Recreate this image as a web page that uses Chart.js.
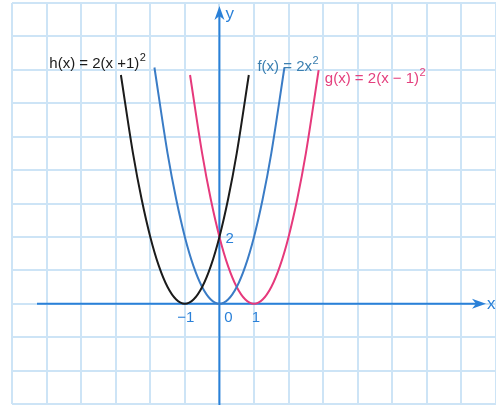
<!DOCTYPE html>
<html>
<head>
<meta charset="utf-8">
<script src="https://cdn.jsdelivr.net/npm/chart.js@4.4.1/dist/chart.umd.min.js"></script>
<style>
    html, body { margin: 0; padding: 0; background: #ffffff; }
    #wrap { width: 496px; height: 409px; }
</style>
</head>
<body>
<div id="wrap"><canvas id="parabolaChart"></canvas></div>
<script>
// sample points of the three parabolas
const hX = [-2.85, -2.5, -2.25, -2, -1.75, -1.5, -1.25, -1, -0.75, -0.5, -0.25, 0, 0.25, 0.5, 0.85];
const hY = [6.845, 4.5, 3.125, 2, 1.125, 0.5, 0.125, 0, 0.125, 0.5, 1.125, 2, 3.125, 4.5, 6.845];
const fX = [-1.88, -1.5, -1.25, -1, -0.75, -0.5, -0.25, 0, 0.25, 0.5, 0.75, 1, 1.25, 1.5, 1.88];
const fY = [7.07, 4.5, 3.125, 2, 1.125, 0.5, 0.125, 0, 0.125, 0.5, 1.125, 2, 3.125, 4.5, 7.07];
const gX = [-0.85, -0.5, -0.25, 0, 0.25, 0.5, 0.75, 1, 1.25, 1.5, 1.75, 2, 2.25, 2.5, 2.87];
const gY = [6.845, 4.5, 3.125, 2, 1.125, 0.5, 0.125, 0, 0.125, 0.5, 1.125, 2, 3.125, 4.5, 6.99];

const xTickLabels = [
    { value: -1, text: '\u22121' },
    { value: 0, text: '0' },
    { value: 1, text: '1' }
];
const yTickLabels = [{ value: 2, text: '2' }];

const AXIS_BLUE = '#2a80d8';
const FONT = '"Liberation Sans", Arial, sans-serif';

function toPoints(xs, ys) {
    return xs.map((x, i) => ({ x: x, y: ys[i] }));
}

function curve(label, xs, ys, color) {
    return {
        label: label,
        data: toPoints(xs, ys),
        showLine: true,
        borderColor: color,
        borderWidth: 2,
        pointRadius: 0,
        fill: false,
        cubicInterpolationMode: 'monotone'
    };
}

// text with a raised exponent at the end
function drawFormula(ctx, text, sup, x, y, color) {
    ctx.fillStyle = color;
    ctx.font = '15px ' + FONT;
    ctx.textAlign = 'left';
    ctx.textBaseline = 'alphabetic';
    ctx.fillText(text, x, y);
    const w = ctx.measureText(text).width;
    ctx.font = '11px ' + FONT;
    ctx.fillText(sup, x + w + 0.5, y - 7);
}

function arrowHead(ctx, x, y, dir) {
    ctx.beginPath();
    if (dir === 'right') {
        ctx.moveTo(x, y);
        ctx.lineTo(x - 14, y - 5);
        ctx.lineTo(x - 10, y);
        ctx.lineTo(x - 14, y + 5);
    } else {
        ctx.moveTo(x, y);
        ctx.lineTo(x - 5, y + 14);
        ctx.lineTo(x, y + 10);
        ctx.lineTo(x + 5, y + 14);
    }
    ctx.closePath();
    ctx.fill();
}

const axesPlugin = {
    id: 'axesPlugin',
    beforeDatasetsDraw(chart) {
        const ctx = chart.ctx;
        const xs = chart.scales.x;
        const ys = chart.scales.y;
        const x0 = xs.getPixelForValue(0);
        const y0 = ys.getPixelForValue(0);
        ctx.save();
        ctx.strokeStyle = AXIS_BLUE;
        ctx.fillStyle = AXIS_BLUE;
        ctx.lineWidth = 2;
        ctx.beginPath();
        ctx.moveTo(37, y0);
        ctx.lineTo(478, y0);
        ctx.moveTo(x0, 405);
        ctx.lineTo(x0, 14);
        ctx.stroke();
        arrowHead(ctx, 486, y0, 'right');
        arrowHead(ctx, x0, 6, 'up');

        ctx.font = '17px ' + FONT;
        ctx.textBaseline = 'middle';
        ctx.textAlign = 'left';
        ctx.fillText('x', 487, y0 + 1);
        ctx.fillText('y', x0 + 6, 14);

        ctx.font = '15px ' + FONT;
        ctx.textBaseline = 'alphabetic';
        ctx.textAlign = 'center';
        xTickLabels.forEach(t => {
            const px = xs.getPixelForValue(t.value);
            const shift = t.value === 0 ? 9 : (t.value < 0 ? 1 : 2);
            ctx.fillText(t.text, px + shift, y0 + 18);
        });
        ctx.textAlign = 'left';
        yTickLabels.forEach(t => {
            ctx.fillText(t.text, x0 + 6, ys.getPixelForValue(t.value) + 6);
        });
        ctx.restore();
    },
    afterDatasetsDraw(chart) {
        const ctx = chart.ctx;
        const xs = chart.scales.x;
        const ys = chart.scales.y;
        ctx.save();
        drawFormula(ctx, 'h(x) = 2(x +1)', '2',
            xs.getPixelForValue(-4.92), ys.getPixelForValue(7.04), '#1b1b1b');
        drawFormula(ctx, 'f(x) = 2x', '2',
            xs.getPixelForValue(1.1), ys.getPixelForValue(6.98), '#3b7fb0');
        drawFormula(ctx, 'g(x) = 2(x \u2212 1)', '2',
            xs.getPixelForValue(3.05), ys.getPixelForValue(6.6), '#e4407e');
        ctx.restore();
    }
};

new Chart(document.getElementById('parabolaChart'), {
    type: 'scatter',
    data: {
        datasets: [
            curve('h(x) = 2(x + 1)²', hX, hY, '#1b1b1b'),
            curve('f(x) = 2x²', fX, fY, '#3a7cc6'),
            curve('g(x) = 2(x − 1)²', gX, gY, '#e6397c')
        ]
    },
    options: {
        responsive: true,
        maintainAspectRatio: false,
        animation: false,
        layout: { padding: { left: 12, top: 3, right: 0, bottom: 5 } },
        scales: {
            x: {
                type: 'linear',
                min: -6,
                max: 8,
                ticks: { display: false, stepSize: 1 },
                grid: { color: '#cde4f6', lineWidth: 2, drawTicks: false },
                border: { display: false }
            },
            y: {
                type: 'linear',
                min: -3,
                max: 9,
                ticks: { display: false, stepSize: 1 },
                grid: { color: '#cde4f6', lineWidth: 2, drawTicks: false },
                border: { display: false }
            }
        },
        plugins: {
            legend: { display: false },
            tooltip: { enabled: false }
        }
    },
    plugins: [axesPlugin]
});
</script>
</body>
</html>
